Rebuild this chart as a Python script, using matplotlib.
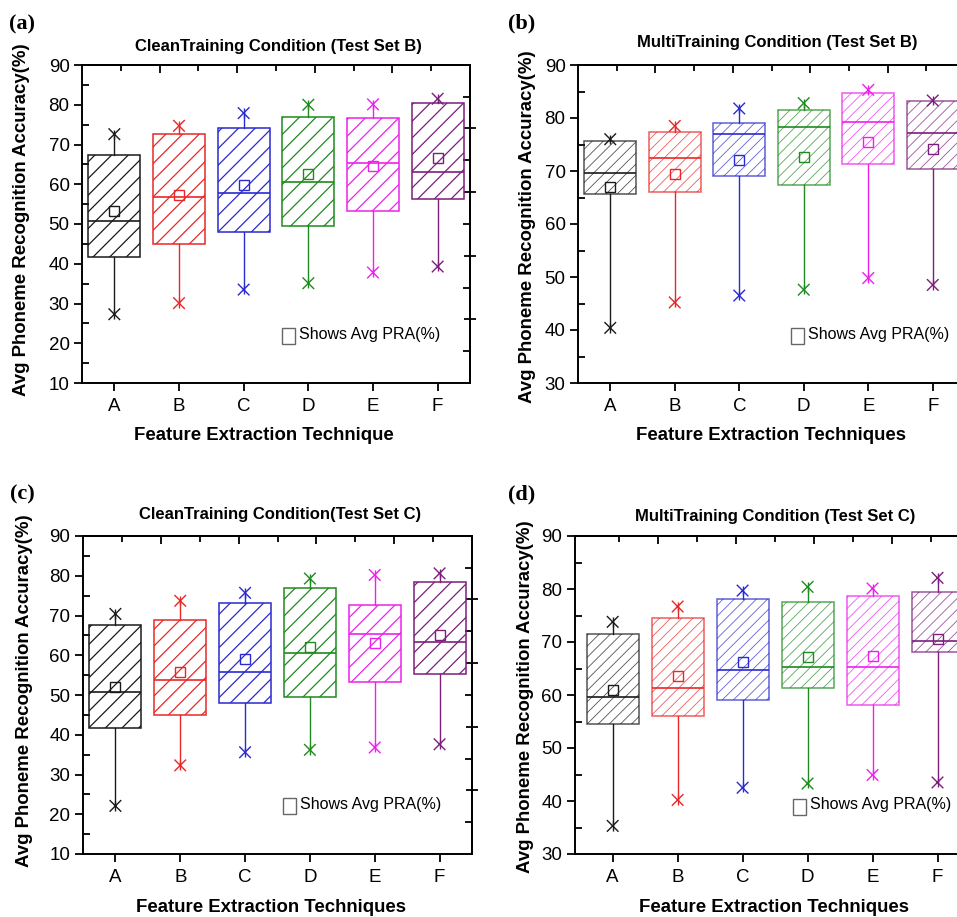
import numpy as np
import matplotlib
matplotlib.use("Agg")
import matplotlib.pyplot as plt
from matplotlib.patches import Rectangle

plt.rcParams['font.family'] = ['Liberation Sans', 'DejaVu Sans']

W, H = 957, 917

techniques = ['A', 'B', 'C', 'D', 'E', 'F']
colors = ['#1a1a1a', '#e82828', '#2a2ad0', '#1f8a1f', '#ec22ec', '#7b1f7b']

# (a) CleanTraining, Test Set B
a_low = [27.3, 30.1, 33.5, 35.1, 37.8, 39.3]
a_q1 = [41.6, 45.0, 48.0, 49.4, 53.3, 56.2]
a_med = [50.8, 56.7, 57.8, 60.5, 65.3, 63.1]
a_mean = [53.2, 57.3, 59.7, 62.5, 64.6, 66.5]
a_q3 = [67.4, 72.7, 74.1, 77.0, 76.7, 80.4]
a_high = [72.6, 74.7, 77.9, 80.0, 80.1, 81.5]

# (b) MultiTraining, Test Set B
b_low = [40.4, 45.2, 46.5, 47.6, 49.8, 48.5]
b_q1 = [65.7, 66.1, 69.1, 67.4, 71.3, 70.3]
b_med = [69.7, 72.5, 76.9, 78.3, 79.3, 77.1]
b_mean = [66.9, 69.5, 72.1, 72.7, 75.4, 74.2]
b_q3 = [75.6, 77.4, 79.1, 81.6, 84.7, 83.2]
b_high = [76.0, 78.5, 81.8, 82.8, 85.3, 83.3]

# (c) CleanTraining, Test Set C
c_low = [22.1, 32.3, 35.6, 36.2, 36.8, 37.6]
c_q1 = [41.6, 45.0, 48.0, 49.5, 53.3, 55.3]
c_med = [50.7, 53.8, 55.8, 60.5, 65.3, 63.3]
c_mean = [52.1, 55.7, 59.1, 62.1, 63.2, 65.2]
c_q3 = [67.5, 68.8, 73.1, 77.0, 72.6, 78.4]
c_high = [70.4, 73.7, 75.7, 79.3, 80.2, 80.6]

# (d) MultiTraining, Test Set C
d_low = [35.3, 40.2, 42.5, 43.3, 44.9, 43.5]
d_q1 = [54.5, 56.1, 59.1, 61.4, 58.2, 68.2]
d_med = [59.7, 61.4, 64.8, 65.2, 65.2, 70.2]
d_mean = [60.9, 63.6, 66.2, 67.1, 67.4, 70.5]
d_q3 = [71.5, 74.5, 78.1, 77.5, 78.7, 79.4]
d_high = [73.8, 76.7, 79.7, 80.4, 80.1, 82.1]

fig = plt.figure(figsize=(W / 100, H / 100), dpi=100)


def fx(x):
    return x / W


def fy(y):
    return 1 - y / H


def draw_panel(box, low, q1, med, mean, q3, high, ymin, xmin, hatch, hlw, alpha):
    l, t, r, b = box
    plt.rcParams['hatch.linewidth'] = hlw
    ax = fig.add_axes([fx(l), fy(b), (r - l) / W, (b - t) / H])
    pos = np.arange(1, 7)
    stats = [dict(whislo=low[i], q1=q1[i], med=med[i], mean=mean[i], q3=q3[i],
                  whishi=high[i], fliers=[]) for i in range(6)]
    bp = ax.bxp(stats, positions=pos, widths=0.8, patch_artist=True,
                showmeans=True, showcaps=False, showfliers=False)
    for i, c in enumerate(colors):
        bp['boxes'][i].set(facecolor='none', edgecolor=c, hatch=hatch,
                           linewidth=1.1, alpha=alpha)
        bp['medians'][i].set(color=c, linewidth=1.2)
        bp['means'][i].set(marker='s', markerfacecolor='none', markeredgecolor=c,
                           markersize=7, markeredgewidth=1.0)
        for w in bp['whiskers'][2 * i:2 * i + 2]:
            w.set(color=c, linewidth=1.0)
    # asterisk-like whisker ends
    for vals in (low, high):
        ax.scatter(pos, vals, marker='x', c=colors, s=70, linewidths=1.0, zorder=4)
        ax.scatter(pos, vals, marker='|', c=colors, s=45, linewidths=1.0, zorder=4)

    ax.set_xlim(xmin, 6.5)
    ax.set_ylim(ymin, 90)
    ax.set_xticks(pos, techniques)
    ax.set_yticks(np.arange(ymin, 91, 10))
    ax.set_yticks(np.arange(ymin + 5, 90, 10), minor=True)
    ax.tick_params(axis='x', direction='out', length=6, width=1.3, labelsize=13.5, pad=5)
    ax.tick_params(axis='y', which='major', direction='out', length=6, width=1.3,
                   labelsize=13.5, pad=3)
    ax.tick_params(axis='y', which='minor', direction='in', length=5, width=1.3)
    ax.tick_params(axis='x', which='minor', bottom=False)
    for s in ax.spines.values():
        s.set_linewidth(1.4)

    top = ax.secondary_xaxis('top')
    top.set_xticks([1.7, 2.9, 4.1, 5.3], [])
    top.set_xticks([1.1, 2.3, 3.5, 4.7, 5.9], minor=True)
    top.tick_params(which='major', direction='in', length=6, width=1.3)
    top.tick_params(which='minor', direction='in', length=4, width=1.3)
    top.spines['top'].set_linewidth(1.4)

    right = ax.secondary_yaxis('right')
    right.set_yticks([v for v in [74.1, 58.0, 42.0, 26.0] if v > ymin], [])
    right.set_yticks([v for v in [82.0, 66.0, 50.0, 34.0, 18.0] if v > ymin], minor=True)
    right.tick_params(which='major', direction='inout', length=8, width=1.3)
    right.tick_params(which='minor', direction='in', length=5, width=1.3)
    right.spines['right'].set_linewidth(1.4)
    return ax


draw_panel((82, 65, 470, 383), a_low, a_q1, a_med, a_mean, a_q3, a_high, 10, 0.5, '//', 0.9, 1.0)
draw_panel((578, 65, 965, 383), b_low, b_q1, b_med, b_mean, b_q3, b_high, 30, 0.5, '///', 0.6, 0.75)
draw_panel((83, 536, 472, 854), c_low, c_q1, c_med, c_mean, c_q3, c_high, 10, 0.5, '//', 0.9, 1.0)
draw_panel((575, 536, 970, 854), d_low, d_q1, d_med, d_mean, d_q3, d_high, 30, 0.42, '///', 0.6, 0.75)

panel_tags = ['(a)', '(b)', '(c)', '(d)']
tag_xy = [(22, 24), (522, 23), (22, 494), (522, 494)]
titles = ['CleanTraining Condition (Test Set B)', 'MultiTraining Condition (Test Set B)',
          'CleanTraining Condition(Test Set C)', 'MultiTraining Condition (Test Set C)']
title_xy = [(278, 46), (777, 42), (280, 514), (775, 517)]
xlabels = ['Feature Extraction Technique', 'Feature Extraction Techniques',
           'Feature Extraction Techniques', 'Feature Extraction Techniques']
xlabel_xy = [(264, 435), (771, 436), (271, 907), (774, 908)]
ylabel_xy = [(22, 220), (527, 227), (25, 691), (525, 697)]
legend_xy = [(282, 328), (791, 328), (283, 798), (793, 799)]

for i in range(4):
    fig.text(fx(tag_xy[i][0]), fy(tag_xy[i][1]), panel_tags[i], ha='center', va='center',
             fontsize=16, fontweight='bold', family=['Liberation Serif', 'DejaVu Serif'])
    fig.text(fx(title_xy[i][0]), fy(title_xy[i][1]), titles[i], ha='center', va='center',
             fontsize=12, fontweight='bold')
    fig.text(fx(xlabel_xy[i][0]), fy(xlabel_xy[i][1]), xlabels[i], ha='center', va='center',
             fontsize=13.4, fontweight='bold')
    fig.text(fx(ylabel_xy[i][0]), fy(ylabel_xy[i][1]), 'Avg Phoneme Recognition Accuracy(%)',
             ha='center', va='center', rotation=90, fontsize=13.4, fontweight='bold')
    lx, ly = legend_xy[i]
    fig.add_artist(Rectangle((fx(lx), fy(ly + 16)), 13 / W, 16 / H, transform=fig.transFigure,
                             fill=False, edgecolor='#666666', linewidth=1.0))
    fig.text(fx(lx + 17), fy(ly + 6), 'Shows Avg PRA(%)', ha='left', va='center', fontsize=11.5)

fig.savefig('out.png', dpi=100)
